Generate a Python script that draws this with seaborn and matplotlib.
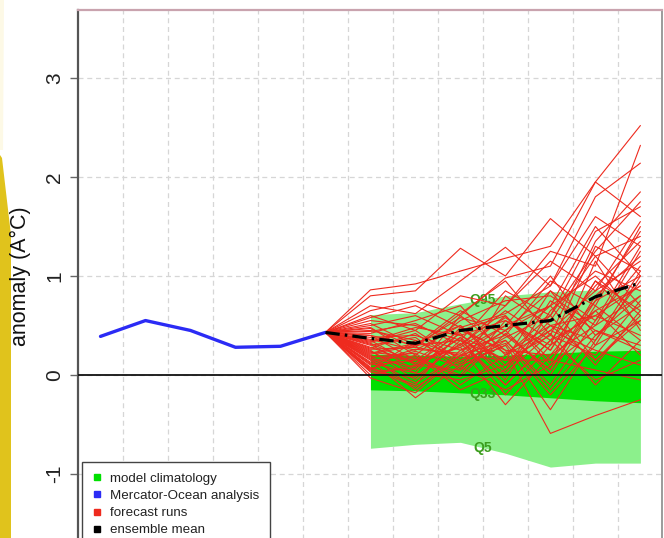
import numpy as np
import pandas as pd
import matplotlib
matplotlib.use("Agg")
import matplotlib.pyplot as plt
import seaborn as sns
from matplotlib.lines import Line2D
from matplotlib.patches import Polygon

# ---- data -------------------------------------------------------------
analysis_months = [0, 1, 2, 3, 4, 5]
analysis = [0.39, 0.55, 0.45, 0.28, 0.29, 0.43]

forecast_months = [5, 6, 7, 8, 9, 10, 11, 12]
ensemble_mean = [0.43, 0.37, 0.32, 0.45, 0.50, 0.55, 0.79, 0.93]

clim_months = [6, 7, 8, 9, 10, 11, 12]
q05 = [-0.74, -0.70, -0.68, -0.79, -0.93, -0.89, -0.89]
q33 = [-0.15, -0.16, -0.18, -0.20, -0.23, -0.26, -0.28]
q66 = [0.21, 0.20, 0.19, 0.20, 0.22, 0.24, 0.25]
q95 = [0.61, 0.63, 0.72, 0.80, 0.84, 0.86, 0.87]

# members, months 6..12 (each run starts from the last analysis value)
forecast_runs = [
    [0.86, 0.92, 1.05, 1.18, 1.30, 1.95, 2.52],
    [0.80, 0.85, 1.28, 1.00, 1.58, 1.20, 1.40],
    [0.70, 0.62, 0.95, 1.29, 0.90, 1.80, 2.14],
    [0.65, 0.75, 0.60, 0.98, 1.10, 1.95, 1.60],
    [0.60, 0.45, 0.80, 0.70, 1.25, 1.10, 2.32],
    [0.58, 0.70, 0.48, 0.62, 0.90, 1.60, 1.30],
    [0.55, 0.50, 0.35, 0.85, 0.60, 1.45, 1.70],
    [0.52, 0.30, 0.65, 0.40, 0.95, 0.70, 1.50],
    [0.50, 0.60, 0.40, 0.55, 0.30, 1.30, 1.05],
    [0.48, 0.20, 0.55, 0.75, 0.80, 0.50, 1.25],
    [0.47, 0.28, 0.62, 0.95, 0.40, 1.35, 1.85],
    [0.45, 0.35, 0.10, 0.30, 0.70, 1.00, 0.60],
    [0.44, 0.52, 0.30, 0.70, 1.15, 0.85, 1.55],
    [0.42, 0.55, 0.70, 0.20, 0.45, 0.85, 1.15],
    [0.40, 0.15, 0.45, 0.60, 0.15, 0.65, 0.90],
    [0.40, 0.30, 0.58, 0.45, 0.70, 1.50, 1.00],
    [0.38, 0.40, 0.25, 0.50, 1.00, 0.40, 0.80],
    [0.36, 0.25, 0.50, 0.10, 0.55, 1.20, 0.70],
    [0.35, 0.10, 0.30, 0.65, 0.35, 0.90, 1.35],
    [0.34, 0.48, 0.40, 0.15, 0.85, 0.55, 1.30],
    [0.33, 0.45, 0.15, 0.45, 0.85, 0.30, 0.55],
    [0.32, 0.12, 0.28, 0.58, 0.25, 0.95, 0.65],
    [0.31, 0.05, 0.60, 0.25, 0.20, 0.75, 1.00],
    [0.30, 0.38, 0.05, 0.80, 0.50, 0.60, 0.40],
    [0.28, 0.12, 0.42, -0.05, 0.65, 1.05, 0.85],
    [0.27, 0.42, 0.12, 0.38, 0.60, 1.25, 1.75],
    [0.26, 0.28, 0.20, 0.35, -0.10, 0.55, 1.10],
    [0.25, -0.05, 0.35, 0.15, 0.40, 0.20, 0.75],
    [0.24, 0.02, 0.48, 0.22, 0.50, 0.35, 1.05],
    [0.23, 0.18, 0.00, 0.55, 0.25, 0.95, 0.50],
    [0.22, 0.32, 0.50, 0.05, 0.75, 0.45, 0.30],
    [0.21, 0.30, 0.35, -0.10, 0.35, 0.60, 0.90],
    [0.20, -0.15, 0.25, 0.40, 0.05, 0.80, 1.20],
    [0.19, 0.16, -0.02, 0.42, 0.05, 0.75, 1.45],
    [0.18, 0.22, -0.10, 0.20, 0.60, 0.10, 0.65],
    [0.17, 0.08, 0.38, -0.20, 0.30, 0.65, 0.20],
    [0.16, -0.08, 0.20, 0.50, 0.70, 0.15, 0.55],
    [0.15, -0.23, 0.10, 0.30, -0.35, 0.35, 0.95],
    [0.13, 0.26, 0.22, 0.60, 0.10, 1.15, 0.45],
    [0.12, 0.02, -0.05, 0.10, 0.45, 0.25, 0.10],
    [0.11, 0.24, 0.08, -0.15, 0.10, 0.45, 0.25],
    [0.10, 0.15, 0.28, -0.30, 0.20, 0.50, 0.80],
    [0.08, -0.10, 0.45, 0.25, -0.59, -0.41, -0.25],
    [0.07, -0.12, 0.15, 0.32, -0.20, 0.30, 1.00],
    [0.06, 0.20, -0.15, 0.05, 0.50, 0.15, 0.60],
    [0.05, 0.35, 0.18, 0.45, 0.00, 0.70, 0.35],
    [0.04, 0.06, 0.38, 0.02, 0.42, -0.10, 0.35],
    [0.03, -0.02, 0.32, -0.10, 0.35, -0.05, 0.15],
    [0.00, 0.10, 0.05, 0.35, -0.15, 0.40, 0.70],
    [-0.03, -0.18, 0.20, 0.15, 0.15, 0.05, -0.05],
]

y_ticks = [-1, 0, 1, 2, 3]
legend_labels = ["model climatology", "Mercator-Ocean analysis",
                 "forecast runs", "ensemble mean"]

# ---- long-form tables --------------------------------------------------
runs_rows = []
for m, run in enumerate(forecast_runs):
    runs_rows.append((m, forecast_months[0], analysis[-1]))
    for mo, v in zip(clim_months, run):
        runs_rows.append((m, mo, v))
runs_df = pd.DataFrame(runs_rows, columns=["member", "month", "anomaly"])
analysis_df = pd.DataFrame({"month": analysis_months, "anomaly": analysis})
mean_df = pd.DataFrame({"month": forecast_months, "anomaly": ensemble_mean})

# ---- style -------------------------------------------------------------
sns.set_theme(style="white")
plt.rcParams["font.family"] = ["Liberation Sans", "DejaVu Sans"]
plt.rcParams["axes.unicode_minus"] = False

W, H = 664, 538
fig = plt.figure(figsize=(W / 100, H / 100), dpi=100)
fig.patch.set_facecolor("white")

# decorative strip on the left edge
def fpts(pts):
    return [(x / W, 1 - y / H) for x, y in pts]

fig.add_artist(Polygon(fpts([(0, 0), (4, 0), (3, 150), (0, 150)]),
                       closed=True, transform=fig.transFigure,
                       facecolor="#FDF9E6", edgecolor="none", zorder=0))
fig.add_artist(Polygon(fpts([(0, 155), (2, 158), (11, 235), (11, 538), (0, 538)]),
                       closed=True, transform=fig.transFigure,
                       facecolor="#E0C31C", edgecolor="none", zorder=0))

ax = fig.add_axes([78 / W, 1 - 573 / H, 584 / W, 563 / H])
ax.set_facecolor("white")
ax.set_xlim(-0.5, 12.48)
ax.set_ylim(-2.0, 3.687)

# grid
ax.set_xticks(np.arange(0.5, 12, 1.0))
ax.set_xticklabels([])
ax.set_yticks(y_ticks)
ax.set_yticklabels([str(t) for t in y_ticks])
ax.grid(True, color="#D6D6D6", lw=0.9, ls=(0, (4, 3)))
ax.set_axisbelow(True)
ax.tick_params(axis="x", length=0)
ax.tick_params(axis="y", length=6, width=1, color="#666666", pad=4,
               labelsize=15, labelcolor="#222222", labelrotation=90, left=True)
for lab in ax.get_yticklabels():
    lab.set_va("center")

# climatology bands
ax.fill_between(clim_months, q05, q95, color="#8CF08C", lw=0, zorder=1)
ax.fill_between(clim_months, q33, q66, color="#00E000", lw=0, zorder=1.1)
for name, q in [("Q95", q95), ("Q66", q66), ("Q33", q33), ("Q5", q05)]:
    ax.text(8.5, np.interp(8.5, clim_months, q), name, color="#3C9E1E",
            fontsize=10, fontweight="bold", ha="center", va="center",
            zorder=1.5)

# forecast members
sns.lineplot(data=runs_df, x="month", y="anomaly", units="member",
             estimator=None, color="#EE2A1E", lw=0.8, ax=ax, legend=False,
             zorder=2)

# zero line
ax.axhline(0, color="#111111", lw=1.3, zorder=3.5)

# analysis and ensemble mean
sns.lineplot(data=analysis_df, x="month", y="anomaly", color="#2B2BF5",
             lw=2.4, ax=ax, legend=False, zorder=4)
sns.lineplot(data=mean_df, x="month", y="anomaly", color="black", lw=2.3,
             ax=ax, legend=False, zorder=4.5, dashes=False)
ax.lines[-1].set_dashes([4.5, 1.6, 0.8, 1.6])

ax.set_xlabel("")
ax.set_ylabel("anomaly (A°C)", fontsize=15.5, color="#111111")
ax.yaxis.set_label_coords((31 - 78) / 584, (573 - 276) / 563)

for side in ["left", "right", "top", "bottom"]:
    ax.spines[side].set_visible(True)
ax.spines["left"].set_color("#555555")
ax.spines["left"].set_linewidth(1.6)
ax.spines["right"].set_color("#8A8A8A")
ax.spines["right"].set_linewidth(1.2)
ax.spines["top"].set_color("#C9A3AE")
ax.spines["top"].set_linewidth(1.6)

# legend
handles = [Line2D([], [], marker="s", ls="none", ms=4.5, color=c)
           for c in ["#00E000", "#2B2BF5", "#EE2A1E", "black"]]
leg = ax.legend(handles, legend_labels, loc="upper left",
                bbox_to_anchor=(82 / W, 1 - 462 / H),
                bbox_transform=fig.transFigure, borderaxespad=0,
                fontsize=9.6, frameon=True, fancybox=False,
                handlelength=0.7, handletextpad=0.6, labelspacing=0.36,
                borderpad=0.8, edgecolor="#444444", framealpha=1)
leg.get_frame().set_linewidth(1.0)
leg.set_zorder(10)
for t in leg.get_texts():
    t.set_color("#222222")

fig.savefig("out.png", dpi=100)
